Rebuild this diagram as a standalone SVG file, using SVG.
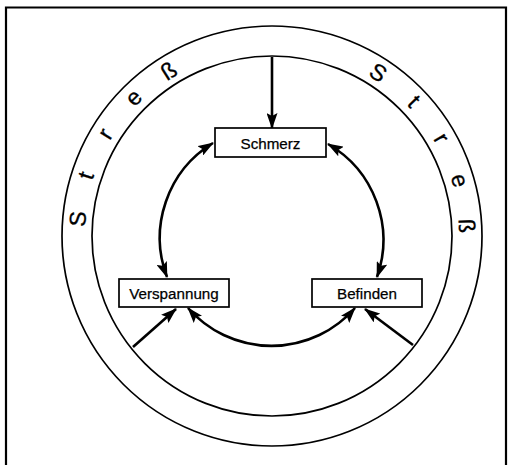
<svg xmlns="http://www.w3.org/2000/svg" width="511" height="465" viewBox="0 0 511 465">
<style>
.ring{fill:none;stroke:#000;stroke-width:1.7}
.frame{fill:none;stroke:#000;stroke-width:2.2}
.box{fill:#fff;stroke:#000;stroke-width:1.7}
.lbl{font-family:"Liberation Sans",Arial,sans-serif;font-size:15.2px;fill:#000;text-anchor:middle;stroke:#000;stroke-width:0.25}
.st{font-family:"Liberation Sans",Arial,sans-serif;font-size:23px;fill:#000;text-anchor:middle;stroke:#000;stroke-width:0.3}
.conn{fill:none;stroke:#000;stroke-width:2.6}
</style>
<defs>
<marker id="ah" viewBox="0 0 16 11" refX="15" refY="5.5" markerWidth="16" markerHeight="11" markerUnits="userSpaceOnUse" orient="auto-start-reverse">
<path d="M0,0 L16,5.5 L0,11 L3,5.5 Z" fill="#000"/>
</marker>
</defs>
<g id="frame"><path class="frame" d="M6,465 V7.5 H506 V465"/></g>
<g id="rings">
<circle class="ring" cx="272" cy="236" r="210"/>
<circle class="ring" cx="272" cy="236" r="180"/>
</g>
<g id="stress-left">
<text class="st" transform="translate(272 236) rotate(275)" x="0" y="-187">S</text>
<text class="st" transform="translate(272 236) rotate(288)" x="0" y="-188">t</text>
<text class="st" transform="translate(272 236) rotate(301.5)" x="0" y="-188">r</text>
<text class="st" transform="translate(272 236) rotate(315)" x="0" y="-188">e</text>
<text class="st" transform="translate(272 236) rotate(328)" x="0" y="-187">ß</text>
</g>
<g id="stress-right">
<text class="st" transform="translate(272 236) rotate(33)" x="0" y="-187">S</text>
<text class="st" transform="translate(272 236) rotate(46.5)" x="0" y="-188">t</text>
<text class="st" transform="translate(272 236) rotate(60)" x="0" y="-188">r</text>
<text class="st" transform="translate(272 236) rotate(73.5)" x="0" y="-188">e</text>
<text class="st" transform="translate(272 236) rotate(87)" x="0" y="-187">ß</text>
</g>
<g id="connectors">
<path class="conn" d="M272,57 V128" marker-end="url(#ah)"/>
<path class="conn" d="M213,143 A111,111 0 0 0 167,277" marker-start="url(#ah)" marker-end="url(#ah)"/>
<path class="conn" d="M328,144 A111,111 0 0 1 377,277" marker-start="url(#ah)" marker-end="url(#ah)"/>
<path class="conn" d="M188,308 A111,111 0 0 0 355,308" marker-start="url(#ah)" marker-end="url(#ah)"/>
<path class="conn" d="M133,347 L176,309" marker-end="url(#ah)"/>
<path class="conn" d="M413,345 L365,309" marker-end="url(#ah)"/>
</g>
<g id="schmerz">
<rect class="box" x="215" y="128" width="111" height="29"/>
<text class="lbl" x="270.5" y="148.5">Schmerz</text>
</g>
<g id="verspannung">
<rect class="box" x="119" y="279" width="110" height="28"/>
<text class="lbl" x="174" y="298.5">Verspannung</text>
</g>
<g id="befinden">
<rect class="box" x="312" y="279" width="110" height="28"/>
<text class="lbl" x="367" y="298.5">Befinden</text>
</g>
</svg>
